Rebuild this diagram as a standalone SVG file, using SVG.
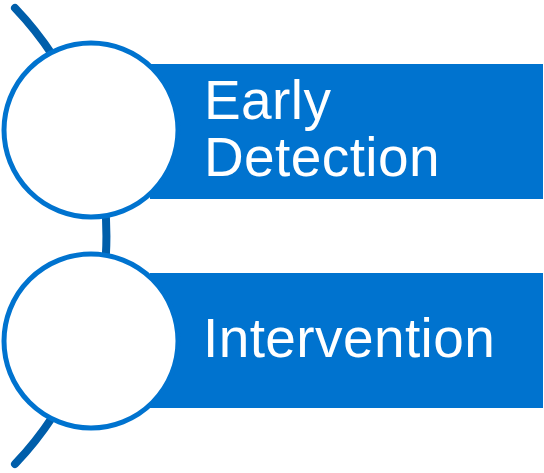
<svg xmlns="http://www.w3.org/2000/svg" width="544" height="473" viewBox="0 0 544 473">
<style>
.bar{fill:#0073CF;}
.ring{fill:#FFFFFF;stroke:#0073CF;stroke-width:5;}
.lbl{font-family:"Liberation Sans",Arial,sans-serif;font-size:55px;letter-spacing:0.4px;fill:#FFFFFF;}
.arc{fill:none;stroke:#005EAA;stroke-width:8;stroke-linecap:round;}
</style>
<g id="connectors">
<path class="arc" d="M 15 8 A 330 330 0 0 1 15 464"/>
</g>
<g id="node-early-detection">
<rect class="bar" x="150" y="64" width="393" height="135"/>
<circle class="ring" cx="91" cy="130" r="87"/>
<text class="lbl" x="204" y="119">Early</text>
<text class="lbl" x="204" y="176">Detection</text>
</g>
<g id="node-intervention">
<rect class="bar" x="150" y="273" width="393" height="135"/>
<circle class="ring" cx="91" cy="341" r="87"/>
<text class="lbl" x="203" y="357">Intervention</text>
</g>
</svg>
